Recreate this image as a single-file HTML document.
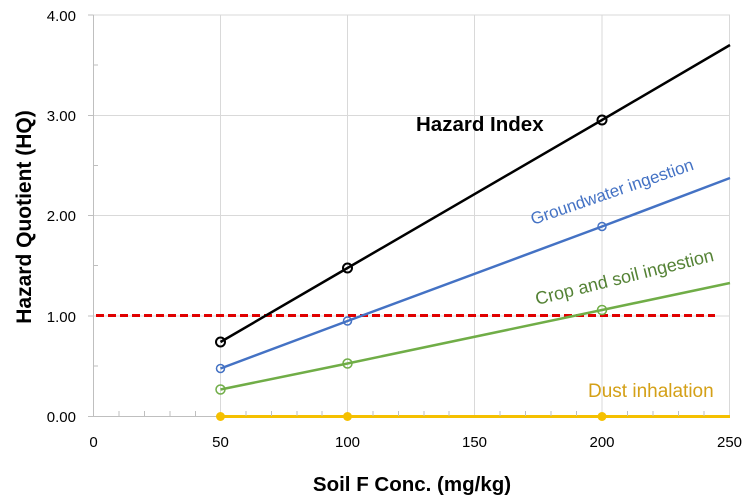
<!DOCTYPE html>
<html><head><style>
body{margin:0;background:#fff;}
svg{display:block;font-family:"Liberation Sans",sans-serif;}
</style></head><body>
<svg width="755" height="503" viewBox="0 0 755 503">
<g stroke="#d9d9d9" stroke-width="1">
<line x1="93.5" y1="15" x2="730" y2="15"/>
<line x1="93.5" y1="115.5" x2="730" y2="115.5"/>
<line x1="93.5" y1="215.5" x2="730" y2="215.5"/>
<line x1="93.5" y1="316" x2="730" y2="316"/>
<line x1="220.5" y1="15" x2="220.5" y2="416.5"/>
<line x1="347.5" y1="15" x2="347.5" y2="416.5"/>
<line x1="474.5" y1="15" x2="474.5" y2="416.5"/>
<line x1="602" y1="15" x2="602" y2="416.5"/>
<line x1="729.5" y1="15" x2="729.5" y2="416.5"/>
</g>
<g stroke="#bfbfbf" stroke-width="1">
<line x1="93.5" y1="15" x2="93.5" y2="417"/>
<line x1="88" y1="416.5" x2="730" y2="416.5"/>
<line x1="88" y1="15" x2="93.5" y2="15"/>
<line x1="88" y1="115.5" x2="93.5" y2="115.5"/>
<line x1="88" y1="215.5" x2="93.5" y2="215.5"/>
<line x1="88" y1="316" x2="93.5" y2="316"/>
<line x1="93.5" y1="65" x2="98" y2="65"/>
<line x1="93.5" y1="165.5" x2="98" y2="165.5"/>
<line x1="93.5" y1="265.5" x2="98" y2="265.5"/>
<line x1="93.5" y1="366" x2="98" y2="366"/>
</g>
<line x1="96" y1="315.5" x2="715" y2="315.5" stroke="#e00000" stroke-width="3" stroke-dasharray="8,4"/>
<polyline points="220.5,416.5 347.5,416.5 602,416.5 730,416.5" fill="none" stroke="#f5c000" stroke-width="3"/>
<g fill="#f5c000"><circle cx="220.5" cy="416.5" r="4.5"/><circle cx="347.5" cy="416.5" r="4.5"/><circle cx="602" cy="416.5" r="4.5"/></g>
<polyline points="220.5,389.5 347.5,363.5 602,310 730,283" fill="none" stroke="#70ad47" stroke-width="2.5"/>
<polyline points="220.5,368.5 347.5,321 602,226.5 730,178" fill="none" stroke="#4472c4" stroke-width="2.5"/>
<polyline points="220.5,342 347.5,268 602,120 730,45" fill="none" stroke="#000" stroke-width="2.5"/>
<g fill="none" stroke-width="1.5">
<circle cx="220.5" cy="389.5" r="4.5" stroke="#70ad47"/><circle cx="347.5" cy="363.5" r="4.5" stroke="#70ad47"/><circle cx="602" cy="310" r="4.5" stroke="#70ad47"/>
<circle cx="220.5" cy="368.5" r="4" stroke="#4472c4"/><circle cx="347.5" cy="321" r="4" stroke="#4472c4"/><circle cx="602" cy="226.5" r="4" stroke="#4472c4"/>
<circle cx="220.5" cy="342" r="4.5" stroke="#000" stroke-width="2"/><circle cx="347.5" cy="268" r="4.5" stroke="#000" stroke-width="2"/><circle cx="602" cy="120" r="4.5" stroke="#000" stroke-width="2"/>
</g>
<g font-size="15" fill="#000" text-anchor="end">
<text x="76" y="21">4.00</text><text x="76" y="121">3.00</text><text x="76" y="221">2.00</text><text x="76" y="322">1.00</text><text x="76" y="422">0.00</text>
</g>
<g font-size="15" fill="#000" text-anchor="middle">
<text x="93.5" y="447">0</text><text x="220.5" y="447">50</text><text x="347.5" y="447">100</text><text x="474.5" y="447">150</text><text x="602" y="447">200</text><text x="729.5" y="447">250</text>
</g>
<text x="412" y="491" font-size="20.5" font-weight="bold" text-anchor="middle">Soil F Conc. (mg/kg)</text>
<text transform="translate(31,217) rotate(-90)" font-size="21" font-weight="bold" text-anchor="middle">Hazard Quotient (HQ)</text>
<text x="416" y="131" font-size="20.5" font-weight="bold">Hazard Index</text>
<text transform="translate(533,225) rotate(-19)" font-size="17" fill="#4472c4">Groundwater ingestion</text>
<text transform="translate(537,305) rotate(-14)" font-size="18" fill="#548235">Crop and soil ingestion</text>
<text x="588" y="397" font-size="19" fill="#d4a017">Dust inhalation</text>
<g stroke="#bfbfbf" stroke-width="1">
<line x1="119" y1="411" x2="119" y2="416"/><line x1="144.5" y1="411" x2="144.5" y2="416"/><line x1="170" y1="411" x2="170" y2="416"/><line x1="195.5" y1="411" x2="195.5" y2="416"/>
<line x1="246" y1="411" x2="246" y2="416"/><line x1="271.5" y1="411" x2="271.5" y2="416"/><line x1="297" y1="411" x2="297" y2="416"/><line x1="322" y1="411" x2="322" y2="416"/>
<line x1="373" y1="411" x2="373" y2="416"/><line x1="398.5" y1="411" x2="398.5" y2="416"/><line x1="424" y1="411" x2="424" y2="416"/><line x1="449" y1="411" x2="449" y2="416"/>
<line x1="500" y1="411" x2="500" y2="416"/><line x1="525.5" y1="411" x2="525.5" y2="416"/><line x1="551" y1="411" x2="551" y2="416"/><line x1="576.5" y1="411" x2="576.5" y2="416"/>
<line x1="627.5" y1="411" x2="627.5" y2="416"/><line x1="653" y1="411" x2="653" y2="416"/><line x1="678.5" y1="411" x2="678.5" y2="416"/><line x1="704" y1="411" x2="704" y2="416"/>
</g>
</svg>
</body></html>
